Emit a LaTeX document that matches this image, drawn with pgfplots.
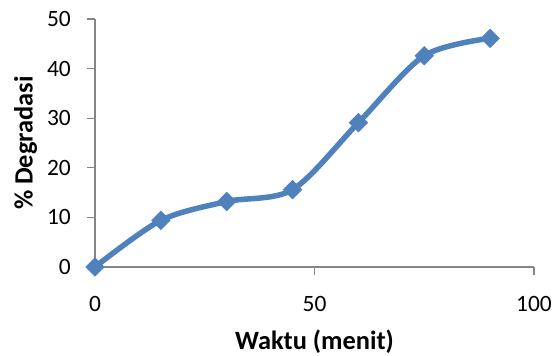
\documentclass[border=0pt]{standalone}
\usepackage{fontspec}
\setmainfont{Carlito}
\usepackage{pgfplots}
\pgfplotsset{compat=1.18}
\definecolor{serieblue}{HTML}{4F81BD}
\definecolor{axisgray}{HTML}{868686}
\begin{document}
\begin{tikzpicture}
\useasboundingbox (-95bp,-89bp) rectangle (461bp,267bp);
\begin{axis}[
  at={(0,0)}, anchor=origin,
  scale only axis,
  width=439bp, height=248bp,
  xmin=0, xmax=100, ymin=0, ymax=50,
  xtick={0,50,100}, ytick={0,10,...,50},
  axis lines*=left,
  axis line style={axisgray, line width=1.2bp, -},
  tick style={axisgray, line width=1.2bp},
  tick align=outside,
  major tick length=8bp,
  clip=false,
  /pgf/number format/assume math mode=true,
  tick label style={font=\fontsize{23.5}{27}\selectfont, inner sep=0pt},
  xticklabel style={anchor=base, yshift=-36bp},
  yticklabel style={anchor=east, xshift=-16bp},
  label style={font=\fontsize{26.5}{30}\selectfont\bfseries, inner sep=0pt},
  xlabel={Waktu (menit)},
  ylabel={\% Degradasi},
  xlabel style={at={(axis description cs:0.5,-0.332)}, anchor=base},
  ylabel style={at={(axis description cs:-0.142,0.5)}, anchor=base},
]
\addplot[serieblue, line width=5.5bp, smooth, tension=0.5,
  mark=square*, mark size=6.6bp, mark options={fill=serieblue, draw=serieblue, line width=0.5bp, rotate=45}]
  coordinates {
    (0,0) (15,9.4) (30,13.2) (45,15.6) (60,29.1) (75,42.6) (90,46.1)
  };
\end{axis}
\end{tikzpicture}
\end{document}
